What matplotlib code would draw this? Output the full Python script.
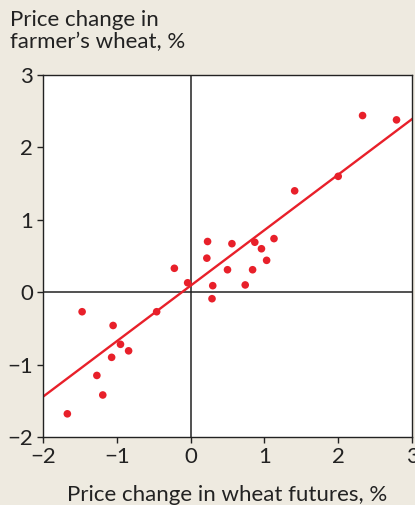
import matplotlib.pyplot as plt
import numpy as np

plt.rcParams['font.family'] = ['Lato', 'DejaVu Sans']

# price changes, %
futures = [-1.67, -1.47, -1.05, -0.95, -0.84, -1.07, -1.27, -1.19, -0.46, -0.22, -0.04,
           0.30, 0.29, 0.50, 0.22, 0.23, 0.56, 0.87, 0.96, 1.13, 1.03, 0.84, 0.74,
           1.41, 2.00, 2.33, 2.79]
farmer = [-1.68, -0.27, -0.46, -0.72, -0.81, -0.90, -1.15, -1.42, -0.27, 0.33, 0.13,
          0.09, -0.09, 0.31, 0.47, 0.70, 0.67, 0.69, 0.60, 0.74, 0.44, 0.31, 0.10,
          1.40, 1.60, 2.44, 2.38]
fit_slope = 0.767
fit_intercept = 0.09

ticks = [-2, -1, 0, 1, 2, 3]

bg = '#EEEAE0'
red = '#E8202A'
fontsize = 16

fig = plt.figure(figsize=(4.15, 5.05), dpi=100, facecolor=bg)
ax = fig.add_axes([0.1036, 0.1347, 0.8892, 0.7168])
ax.set_facecolor('white')

ax.axhline(0, color='#222222', linewidth=1.1, zorder=1)
ax.axvline(0, color='#222222', linewidth=1.1, zorder=1)

xs = np.array([-2, 3])
ax.plot(xs, fit_slope * xs + fit_intercept, color=red, linewidth=1.7, zorder=2)
ax.scatter(futures, farmer, s=30, color=red, edgecolors='none', zorder=3)

ax.set_xlim(-2, 3)
ax.set_ylim(-2, 3)
ax.set_xticks(ticks)
ax.set_yticks(ticks)
ax.tick_params(direction='out', length=4, width=1, color='#222222',
               labelsize=fontsize, labelcolor='#222222', pad=3)
for s in ax.spines.values():
    s.set_color('#222222')
    s.set_linewidth(1)

ax.set_xlabel('Price change in wheat futures, %', fontsize=fontsize, color='#222222', labelpad=13)
fig.text(0.024, 0.98, 'Price change in\nfarmer\u2019s wheat, %', fontsize=fontsize,
         color='#222222', ha='left', va='top', linespacing=1.1)

fig.savefig('out.png', dpi=100, facecolor=bg)
